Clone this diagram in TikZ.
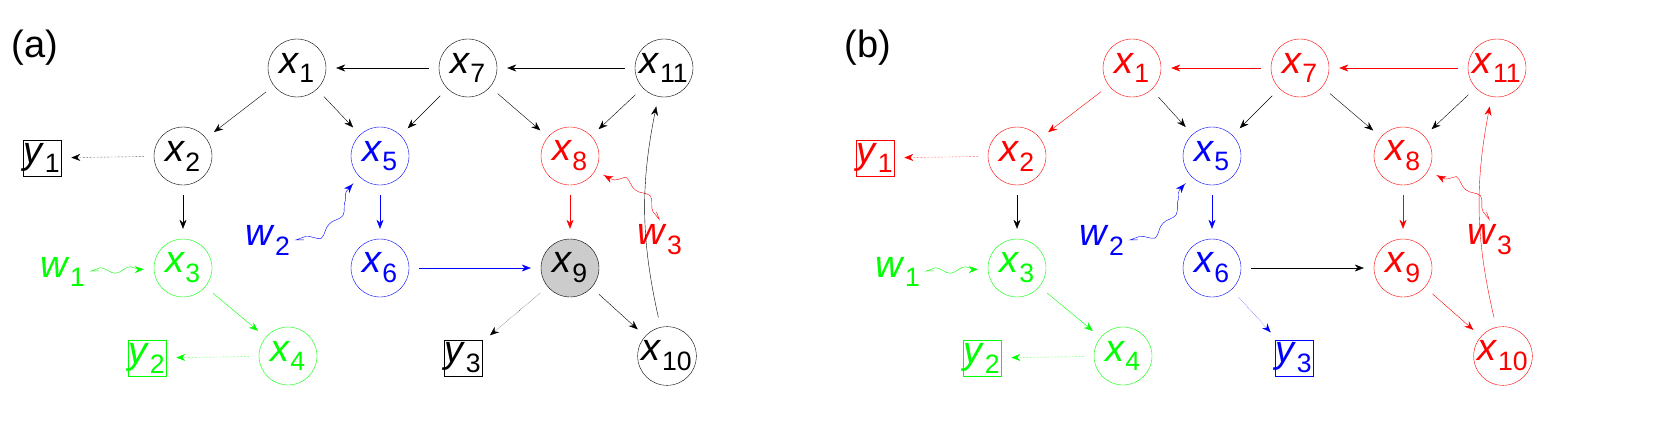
\documentclass[tikz,border=0pt]{standalone}
\usepackage{fontspec}
\setmainfont{Liberation Sans}
\usetikzlibrary{arrows.meta,decorations.pathmorphing}
\newcommand{\vx}[2]{\textit{#1}\textsubscript{#2}}
\begin{document}
\begin{tikzpicture}[
                            x=1pt, y=-1pt,
                            >={Stealth[length=9pt,width=7pt]},
                            shorten >=10pt, shorten <=10pt,
                            thin,
                            font=\fontsize{38}{40}\selectfont
                        ]

                        \tikzstyle{var}=[circle,draw,minimum size=58pt,inner sep=0pt]
                        \tikzstyle{obs}=[draw,minimum size=36pt,inner sep=1pt]
                        \tikzstyle{meas}=[->,densely dotted]
                        \tikzstyle{noise}=[->,decorate,decoration={snake,amplitude=3pt,segment length=30pt,pre length=2pt,post length=9pt}]

                        % panel (a)
                        \node (la) at (35,48) {(a)};
                        \node[var]             (A1)  at (297,68)  {\vx x1};
                        \node[var]             (A7)  at (468,68)  {\vx x7};
                        \node[var]             (A11) at (664,68)  {\vx x{11}};
                        \node[var]             (A2)  at (183,156) {\vx x2};
                        \node[var,blue]        (A5)  at (380,156) {\vx x5};
                        \node[var,red]         (A8)  at (570,156) {\vx x8};
                        \node[obs]             (AY1) at (42,158)  {\vx y1};
                        \node[var,green]       (A3)  at (183,268) {\vx x3};
                        \node[var,blue]        (A6)  at (380,268) {\vx x6};
                        \node[var,fill=black!20] (A9) at (570,268) {\vx x9};
                        \node[var,green]       (A4)  at (288,356) {\vx x4};
                        \node[obs,green]       (AY2) at (147,358) {\vx y2};
                        \node[obs]             (AY3) at (463,358) {\vx y3};
                        \node[var]             (A10) at (667,356) {\vx x{10}};
                        \node[green]           (AW1) at (63,272)  {\vx w1};
                        \node[blue]            (AW2) at (268,240) {\vx w2};
                        \node[red]             (AW3) at (660,240) {\vx w3};

                        \draw[->] (A7) -- (A1);
                        \draw[->] (A11) -- (A7);
                        \draw[->] (A1) -- (A2);
                        \draw[->] (A1) -- (A5);
                        \draw[->] (A7) -- (A5);
                        \draw[->] (A7) -- (A8);
                        \draw[->] (A11) -- (A8);
                        \draw[meas] (A2) -- (AY1);
                        \draw[->] (A2) -- (A3);
                        \draw[noise,green] (AW1) -- (A3);
                        \draw[->,green] (A3) -- (A4);
                        \draw[meas,green] (A4) -- (AY2);
                        \draw[noise,blue] (AW2.east) to[out=0,in=-135] (A5);
                        \draw[->,blue] (A5) -- (A6);
                        \draw[->,blue] (A6) -- (A9);
                        \draw[noise,red] (AW3.north) to[out=110,in=-30] (A8);
                        \draw[->,red] (A8) -- (A9);
                        \draw[meas] (A9) -- (AY3);
                        \draw[->] (A9) -- (A10);
                        \draw[->] (A10) to[bend left=12] (A11);

                        % panel (b)
                        \node (lb) at (868,48) {(b)};
                        \node[var,red]         (B1)  at (1132,68)  {\vx x1};
                        \node[var,red]         (B7)  at (1300,68)  {\vx x7};
                        \node[var,red]         (B11) at (1497,68)  {\vx x{11}};
                        \node[var,red]         (B2)  at (1017,156) {\vx x2};
                        \node[var,blue]        (B5)  at (1212,156) {\vx x5};
                        \node[var,red]         (B8)  at (1403,156) {\vx x8};
                        \node[obs,red]         (BY1) at (875,158)  {\vx y1};
                        \node[var,green]       (B3)  at (1017,268) {\vx x3};
                        \node[var,blue]        (B6)  at (1212,268) {\vx x6};
                        \node[var,red]         (B9)  at (1403,268) {\vx x9};
                        \node[var,green]       (B4)  at (1123,356) {\vx x4};
                        \node[obs,green]       (BY2) at (982,358)  {\vx y2};
                        \node[obs,blue]        (BY3) at (1294,358) {\vx y3};
                        \node[var,red]         (B10) at (1503,356) {\vx x{10}};
                        \node[green]           (BW1) at (898,272)  {\vx w1};
                        \node[blue]            (BW2) at (1102,240) {\vx w2};
                        \node[red]             (BW3) at (1490,240) {\vx w3};

                        \draw[->,red] (B7) -- (B1);
                        \draw[->,red] (B11) -- (B7);
                        \draw[->,red] (B1) -- (B2);
                        \draw[->] (B1) -- (B5);
                        \draw[->] (B7) -- (B5);
                        \draw[->] (B7) -- (B8);
                        \draw[->] (B11) -- (B8);
                        \draw[meas,red] (B2) -- (BY1);
                        \draw[->] (B2) -- (B3);
                        \draw[noise,green] (BW1) -- (B3);
                        \draw[->,green] (B3) -- (B4);
                        \draw[meas,green] (B4) -- (BY2);
                        \draw[noise,blue] (BW2.east) to[out=0,in=-135] (B5);
                        \draw[->,blue] (B5) -- (B6);
                        \draw[->] (B6) -- (B9);
                        \draw[meas,blue] (B6) -- (BY3);
                        \draw[noise,red] (BW3.north) to[out=110,in=-30] (B8);
                        \draw[->,red] (B8) -- (B9);
                        \draw[->,red] (B9) -- (B10);
                        \draw[->,red] (B10) to[bend left=12] (B11);

                        \pgfresetboundingbox
                        \useasboundingbox (0,0) rectangle (1659,444);
                    \end{tikzpicture}
\end{document}
